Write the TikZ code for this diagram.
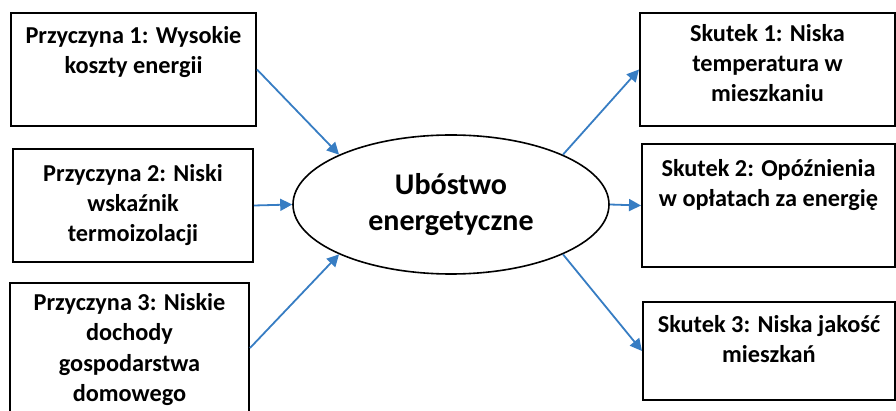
\documentclass[tikz,border=0pt]{standalone}
\usepackage{fontspec}
\setmainfont{Carlito}
\usepackage{xcolor}
\usetikzlibrary{shapes,arrows.meta,positioning}
\definecolor{arrowblue}{RGB}{55,125,195}
% box text: width, height, top pad, lines
\newcommand{\boxtext}[4]{\parbox[c][#2pt][t]{#1pt}{\centering\vspace*{#3pt}\strut #4}}

\begin{document}
\begin{tikzpicture}[x=1pt, y=-1pt, >={Triangle[length=12pt,width=12pt]},
    box/.style={draw, line width=2pt, inner sep=0pt, anchor=north west,
        font=\fontsize{24.3}{30}\selectfont\bfseries},
    link/.style={->, arrowblue, line width=1.8pt}]
    \useasboundingbox (0,0) rectangle (896,411);

    % causes
    \node[box] (p1) at (10,12) {\boxtext{245}{113}{10}{Przyczyna 1: Wysokie\\koszty energii}};
    \node[box] (p2) at (12,148) {\boxtext{240}{113}{12}{Przyczyna 2: Niski\\wskaźnik\\termoizolacji}};
    \node[box] (p3) at (9,282) {\boxtext{239}{130}{7}{Przyczyna 3: Niskie\\dochody\\gospodarstwa\\domowego}};

    % problem
    \node[draw, ellipse, line width=1.6pt, minimum width=316pt, minimum height=139pt,
        inner sep=0pt, align=center, font=\fontsize{30}{36}\selectfont\bfseries]
        (ub) at (451,204.5) {Ubóstwo\\energetyczne};

    % effects
    \node[box] (s1) at (639,12) {\boxtext{255}{113}{8}{Skutek 1: Niska\\temperatura w\\mieszkaniu}};
    \node[box] (s2) at (641,143) {\boxtext{253}{123}{12}{Skutek 2: Opóźnienia\\w opłatach za energię}};
    \node[box] (s3) at (642,301) {\boxtext{252}{98}{9}{Skutek 3: Niska jakość\\mieszkań}};

    \foreach \a/\b in {p1.east/ub.156, p2.east/ub.west, p3.east/ub.204,
                       ub.24/s1.west, ub.east/s2.west, ub.-24/s3.west} {
        \draw[link] (\a) -- (\b);
    }
\end{tikzpicture}
\end{document}
